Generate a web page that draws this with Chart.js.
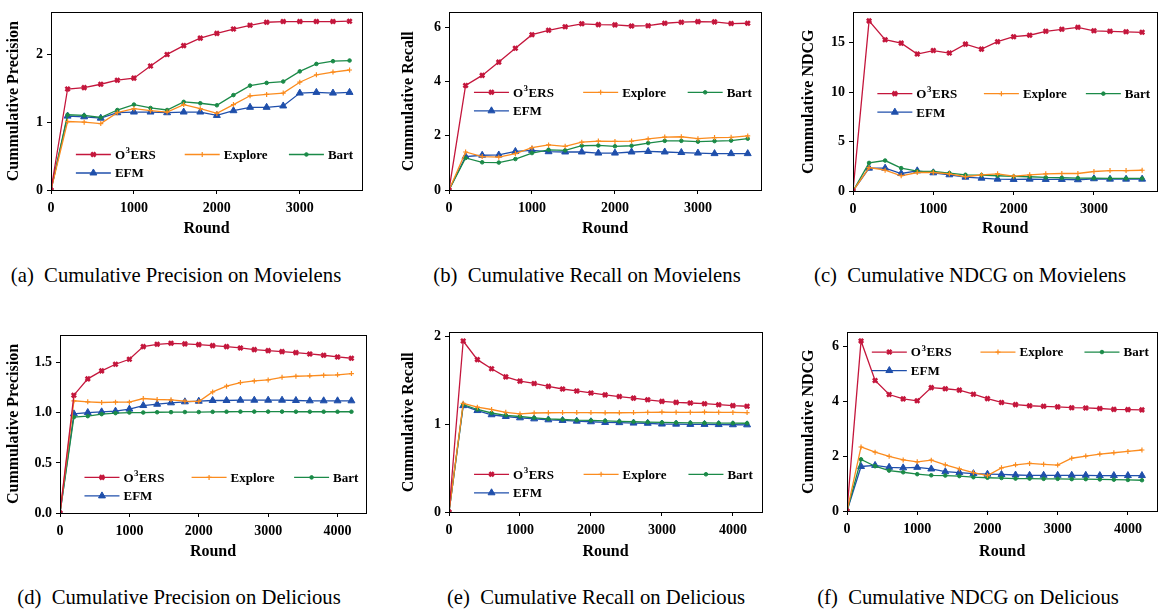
<!DOCTYPE html>
<html>
<head>
<meta charset="utf-8">
<script src="https://cdn.jsdelivr.net/npm/chart.js@4.4.1/dist/chart.umd.min.js"></script>
<style>
  body { margin: 0; background: #fff; width: 1164px; height: 611px; position: relative; overflow: hidden; }
  .panel { position: absolute; }
  .caption { position: absolute; font-family: "Liberation Serif", serif; font-size: 20.7px; line-height: 24px;
             white-space: pre; color: #000; transform: translateX(-50%); }
</style>
</head>
<body>
<div class="panel" id="pa"><canvas id="ca"></canvas></div>
<div class="panel" id="pb"><canvas id="cb"></canvas></div>
<div class="panel" id="pc"><canvas id="cc"></canvas></div>
<div class="panel" id="pd"><canvas id="cd"></canvas></div>
<div class="panel" id="pe"><canvas id="ce"></canvas></div>
<div class="panel" id="pf"><canvas id="cf"></canvas></div>

<div class="caption" style="left:176px;top:263px">(a)  Cumulative Precision on Movielens</div>
<div class="caption" style="left:587px;top:263px">(b)  Cumulative Recall on Movielens</div>
<div class="caption" style="left:970px;top:263px">(c)  Cumulative NDCG on Movielens</div>
<div class="caption" style="left:179px;top:585px">(d)  Cumulative Precision on Delicious</div>
<div class="caption" style="left:596px;top:585px">(e)  Cumulative Recall on Delicious</div>
<div class="caption" style="left:968px;top:585px">(f)  Cumulative NDCG on Delicious</div>

<script>
// rounds (x values)
const roundsMovielens = [0, 200, 400, 600, 800, 1000, 1200, 1400, 1600, 1800, 2000,
  2200, 2400, 2600, 2800, 3000, 3200, 3400, 3600];
const roundsDelicious = [0, 200, 400, 600, 800, 1000, 1200, 1400, 1600, 1800, 2000,
  2200, 2400, 2600, 2800, 3000, 3200, 3400, 3600, 3800, 4000, 4200];

// tick values
const xTicksMovielens = [0, 1000, 2000, 3000];
const xTicksDelicious = [0, 1000, 2000, 3000, 4000];
const yTicksPrecMov = [0, 1, 2];
const yTicksRecMov = [0, 2, 4, 6];
const yTicksNdcgMov = [0, 5, 10, 15];
const yTicksPrecDel = [0, 0.5, 1.0, 1.5];
const yTicksRecDel = [0, 1, 2];
const yTicksNdcgDel = [0, 2, 4, 6];

const methodNames = ['O³ERS', 'Explore', 'Bart', 'EFM'];

// Movielens
const precMovO3ERS   = [0, 1.49, 1.51, 1.56, 1.62, 1.65, 1.83, 2.0, 2.13, 2.24, 2.31, 2.375, 2.43, 2.475, 2.485, 2.485, 2.485, 2.485, 2.49];
const precMovExplore = [0, 1.01, 1.0, 0.98, 1.14, 1.2, 1.17, 1.15, 1.26, 1.2, 1.13, 1.26, 1.39, 1.41, 1.43, 1.59, 1.70, 1.74, 1.77];
const precMovBart    = [0, 1.11, 1.10, 1.07, 1.18, 1.26, 1.21, 1.18, 1.30, 1.28, 1.25, 1.40, 1.54, 1.58, 1.60, 1.75, 1.86, 1.90, 1.91];
const precMovEFM     = [0, 1.09, 1.08, 1.06, 1.14, 1.15, 1.15, 1.14, 1.15, 1.15, 1.10, 1.17, 1.22, 1.22, 1.24, 1.43, 1.44, 1.43, 1.44];

const recMovO3ERS   = [0, 3.85, 4.22, 4.71, 5.22, 5.72, 5.88, 6.01, 6.12, 6.09, 6.08, 6.04, 6.05, 6.14, 6.18, 6.20, 6.19, 6.13, 6.14];
const recMovExplore = [0, 1.40, 1.23, 1.21, 1.34, 1.56, 1.66, 1.61, 1.76, 1.80, 1.79, 1.80, 1.88, 1.95, 1.96, 1.89, 1.93, 1.94, 1.99];
const recMovBart    = [0, 1.18, 1.02, 1.01, 1.14, 1.36, 1.48, 1.46, 1.63, 1.64, 1.61, 1.63, 1.73, 1.81, 1.81, 1.78, 1.80, 1.82, 1.89];
const recMovEFM     = [0, 1.23, 1.28, 1.29, 1.42, 1.46, 1.41, 1.40, 1.40, 1.36, 1.36, 1.40, 1.42, 1.40, 1.38, 1.36, 1.34, 1.34, 1.34];

const ndcgMovO3ERS   = [0, 17.2, 15.3, 14.95, 13.85, 14.2, 13.95, 14.85, 14.35, 15.1, 15.6, 15.75, 16.15, 16.35, 16.55, 16.2, 16.15, 16.1, 16.05];
const ndcgMovExplore = [0, 2.37, 2.1, 1.54, 1.87, 1.87, 1.74, 1.44, 1.64, 1.74, 1.5, 1.64, 1.74, 1.77, 1.77, 1.97, 2.07, 2.07, 2.1];
const ndcgMovBart    = [0, 2.84, 3.08, 2.31, 2.0, 1.97, 1.81, 1.64, 1.6, 1.54, 1.47, 1.44, 1.37, 1.34, 1.30, 1.30, 1.27, 1.27, 1.27];
const ndcgMovEFM     = [0, 2.31, 2.31, 1.77, 2.04, 1.84, 1.64, 1.40, 1.30, 1.20, 1.17, 1.20, 1.17, 1.17, 1.14, 1.24, 1.20, 1.20, 1.20];

// Delicious
const precDelO3ERS   = [0, 1.176, 1.339, 1.419, 1.485, 1.535, 1.661, 1.684, 1.694, 1.688, 1.681, 1.671, 1.661, 1.648, 1.631, 1.621, 1.611, 1.601, 1.588, 1.575, 1.558, 1.545];
const precDelExplore = [0, 1.12, 1.11, 1.103, 1.106, 1.106, 1.143, 1.133, 1.13, 1.116, 1.113, 1.209, 1.266, 1.302, 1.319, 1.329, 1.355, 1.365, 1.369, 1.375, 1.379, 1.392];
const precDelBart    = [0, 0.957, 0.967, 0.987, 0.997, 1.003, 1.003, 1.006, 1.007, 1.008, 1.008, 1.01, 1.011, 1.012, 1.012, 1.012, 1.012, 1.011, 1.011, 1.011, 1.011, 1.011];
const precDelEFM     = [0, 0.99, 1.003, 1.01, 1.017, 1.037, 1.073, 1.086, 1.1, 1.11, 1.116, 1.123, 1.123, 1.126, 1.126, 1.126, 1.126, 1.123, 1.12, 1.12, 1.12, 1.12];

const recDelO3ERS   = [0, 1.952, 1.739, 1.635, 1.542, 1.494, 1.467, 1.434, 1.404, 1.382, 1.359, 1.337, 1.318, 1.30, 1.281, 1.263, 1.251, 1.244, 1.236, 1.225, 1.214, 1.207];
const recDelExplore = [0, 1.24, 1.197, 1.17, 1.138, 1.12, 1.13, 1.133, 1.135, 1.135, 1.135, 1.133, 1.133, 1.135, 1.138, 1.14, 1.138, 1.138, 1.14, 1.138, 1.137, 1.135];
const recDelBart    = [0, 1.225, 1.17, 1.13, 1.104, 1.09, 1.075, 1.063, 1.056, 1.048, 1.045, 1.041, 1.034, 1.03, 1.026, 1.022, 1.02, 1.018, 1.017, 1.015, 1.014, 1.013];
const recDelEFM     = [0, 1.214, 1.158, 1.11, 1.09, 1.075, 1.063, 1.052, 1.045, 1.037, 1.03, 1.022, 1.02, 1.015, 1.013, 1.004, 1.003, 1.0, 1.0, 0.998, 0.996, 0.995];

const ndcgDelO3ERS   = [0, 6.19, 4.75, 4.24, 4.08, 4.01, 4.49, 4.45, 4.40, 4.25, 4.09, 3.95, 3.87, 3.83, 3.81, 3.79, 3.76, 3.75, 3.73, 3.70, 3.69, 3.68];
const ndcgDelExplore = [0, 2.33, 2.14, 1.99, 1.86, 1.79, 1.85, 1.68, 1.53, 1.40, 1.29, 1.57, 1.68, 1.73, 1.70, 1.67, 1.92, 2.0, 2.07, 2.12, 2.17, 2.22];
const ndcgDelBart    = [0, 1.88, 1.63, 1.47, 1.41, 1.34, 1.30, 1.29, 1.27, 1.23, 1.21, 1.20, 1.18, 1.18, 1.17, 1.17, 1.16, 1.16, 1.15, 1.14, 1.13, 1.12];
const ndcgDelEFM     = [0, 1.62, 1.66, 1.59, 1.57, 1.59, 1.53, 1.43, 1.40, 1.36, 1.34, 1.33, 1.31, 1.30, 1.30, 1.30, 1.30, 1.30, 1.29, 1.29, 1.29, 1.29];

// series styles, same order as methodNames
const styles = [
  { color: '#c4163c', pointStyle: 'crossRot', radius: 3, pointBorderWidth: 2.6 },
  { color: '#fb8c1f', pointStyle: 'cross', radius: 2.5, pointBorderWidth: 1.2 },
  { color: '#1b8a48', pointStyle: 'circle', radius: 1.8, pointBorderWidth: 1 },
  { color: '#1f4fab', pointStyle: 'triangle', radius: 4, pointBorderWidth: 1 }
];

const FONT = '"Liberation Serif", "Times New Roman", serif';

// draws the full frame round the plot
const framePlugin = {
  id: 'frame',
  afterDraw(chart) {
    const a = chart.chartArea, ctx = chart.ctx;
    ctx.save();
    ctx.strokeStyle = '#000';
    ctx.lineWidth = 1;
    ctx.strokeRect(Math.round(a.left) + 0.5, Math.round(a.top) + 0.5,
                   Math.round(a.right - a.left), Math.round(a.bottom - a.top));
    ctx.restore();
  }
};

// label text, with a raised "3" for the superscript
function drawLabel(ctx, text, x, y) {
  const parts = text.split('³');
  if (parts.length === 1) { ctx.fillText(text, x, y); return; }
  ctx.fillText(parts[0], x, y);
  let cx = x + ctx.measureText(parts[0]).width + 0.5;
  const base = ctx.font;
  ctx.font = 'bold 9px ' + FONT;
  ctx.fillText('3', cx, y - 4.5);
  cx += ctx.measureText('3').width + 0.5;
  ctx.font = base;
  ctx.fillText(parts[1], cx, y);
}

// legend in 3 columns inside the plot area
const legendPlugin = {
  id: 'innerLegend',
  afterDraw(chart, args, opts) {
    const a = chart.chartArea, ctx = chart.ctx;
    const w = a.right - a.left, h = a.bottom - a.top;
    const cols = [0.08, 0.43, 0.765];
    ctx.save();
    ctx.font = 'bold 13px ' + FONT;
    ctx.textBaseline = 'middle';
    chart.data.datasets.forEach((ds, i) => {
      const col = i % 3, row = Math.floor(i / 3);
      const x0 = a.left + cols[col] * w;
      const y = a.top + opts.rowY * h + row * 18.5;
      ctx.strokeStyle = ds.borderColor;
      ctx.lineWidth = 1.3;
      ctx.beginPath();
      ctx.moveTo(x0, y);
      ctx.lineTo(x0 + 35, y);
      ctx.stroke();
      ctx.fillStyle = ds.borderColor;
      ctx.lineWidth = ds.pointBorderWidth;
      Chart.helpers.drawPoint(ctx, { pointStyle: ds.pointStyle, radius: ds.pointRadius, rotation: 0,
                                     borderWidth: ds.pointBorderWidth }, x0 + 17.5, y);
      ctx.fillStyle = '#000';
      drawLabel(ctx, ds.label, x0 + 39, y + 1);
    });
    ctx.restore();
  }
};

function makePanel(cfg) {
  const holder = document.getElementById(cfg.holder);
  const [bl, bt, br, bb] = cfg.box;
  const [pl, pt, pr, pb] = cfg.plot;
  holder.style.left = bl + 'px';
  holder.style.top = bt + 'px';
  holder.style.width = (br - bl) + 'px';
  holder.style.height = (bb - bt) + 'px';

  const datasets = cfg.series.map((vals, i) => ({
    label: methodNames[i],
    data: cfg.rounds.map((r, k) => ({ x: r, y: vals[k] })),
    borderColor: styles[i].color,
    backgroundColor: styles[i].color,
    borderWidth: 1.3,
    pointStyle: styles[i].pointStyle,
    pointRadius: styles[i].radius,
    pointBorderWidth: styles[i].pointBorderWidth,
    pointBackgroundColor: styles[i].color,
    tension: 0
  }));

  const tickFont = { family: FONT, size: 14, weight: 'bold' };
  const titleFont = { family: FONT, size: 16, weight: 'bold' };

  new Chart(document.getElementById(cfg.canvas), {
    type: 'line',
    data: { datasets },
    plugins: [framePlugin, legendPlugin],
    options: {
      responsive: true,
      maintainAspectRatio: false,
      animation: false,
      layout: { padding: { top: pt - bt, right: br - pr, left: 0, bottom: 0 } },
      plugins: {
        legend: { display: false },
        tooltip: { enabled: false },
        innerLegend: { rowY: cfg.legendRow }
      },
      scales: {
        x: {
          type: 'linear',
          min: 0,
          max: cfg.xMax,
          afterBuildTicks(scale) { scale.ticks = cfg.xTicks.map(v => ({ value: v })); },
          afterFit(scale) { scale.height = bb - pb; },
          ticks: { color: '#000', font: tickFont, padding: 6, maxRotation: 0, autoSkip: false,
                   callback: v => String(v) },
          grid: { display: true, drawOnChartArea: false, drawTicks: true, tickLength: 4, color: '#000' },
          border: { display: false },
          title: { display: true, text: 'Round', color: '#000', font: titleFont, padding: { top: 2, bottom: 4 } }
        },
        y: {
          min: 0,
          max: cfg.yMax,
          afterBuildTicks(scale) { scale.ticks = cfg.yTicks.map(v => ({ value: v })); },
          afterFit(scale) { scale.width = pl - bl; },
          ticks: { color: '#000', font: tickFont, padding: 4, autoSkip: false,
                   callback: v => cfg.yDecimals ? v.toFixed(cfg.yDecimals) : String(v) },
          grid: { display: true, drawOnChartArea: false, drawTicks: true, tickLength: 4, color: '#000' },
          border: { display: false },
          title: { display: true, text: cfg.yTitle, color: '#000', font: titleFont, padding: { top: 4, bottom: 4 } }
        }
      }
    }
  });
}

makePanel({ holder: 'pa', canvas: 'ca', box: [0, 0, 375, 242], plot: [51, 6, 362, 190],
  rounds: roundsMovielens, series: [precMovO3ERS, precMovExplore, precMovBart, precMovEFM],
  xMax: 3750, xTicks: xTicksMovielens, yMax: 2.62, yTicks: yTicksPrecMov, yDecimals: 0,
  yTitle: 'Cummulative Precision', legendRow: 0.80 });

makePanel({ holder: 'pb', canvas: 'cb', box: [395, 0, 775, 242], plot: [449, 6, 761, 190],
  rounds: roundsMovielens, series: [recMovO3ERS, recMovExplore, recMovBart, recMovEFM],
  xMax: 3760, xTicks: xTicksMovielens, yMax: 6.54, yTicks: yTicksRecMov, yDecimals: 0,
  yTitle: 'Cummulative Recall', legendRow: 0.45 });

makePanel({ holder: 'pc', canvas: 'cc', box: [795, 0, 1164, 242], plot: [853, 11, 1161, 191],
  rounds: roundsMovielens, series: [ndcgMovO3ERS, ndcgMovExplore, ndcgMovBart, ndcgMovEFM],
  xMax: 3790, xTicks: xTicksMovielens, yMax: 18.06, yTicks: yTicksNdcgMov, yDecimals: 0,
  yTitle: 'Cummulative NDCG', legendRow: 0.455 });

makePanel({ holder: 'pd', canvas: 'cd', box: [0, 320, 375, 565], plot: [60, 335, 366, 513],
  rounds: roundsDelicious, series: [precDelO3ERS, precDelExplore, precDelBart, precDelEFM],
  xMax: 4410, xTicks: xTicksDelicious, yMax: 1.777, yTicks: yTicksPrecDel, yDecimals: 1,
  yTitle: 'Cummulative Precision', legendRow: 0.80 });

makePanel({ holder: 'pe', canvas: 'ce', box: [395, 320, 775, 565], plot: [449, 328, 762, 512],
  rounds: roundsDelicious, series: [recDelO3ERS, recDelExplore, recDelBart, recDelEFM],
  xMax: 4410, xTicks: xTicksDelicious, yMax: 2.05, yTicks: yTicksRecDel, yDecimals: 0,
  yTitle: 'Cummulative Recall', legendRow: 0.79 });

makePanel({ holder: 'pf', canvas: 'cf', box: [795, 320, 1164, 565], plot: [847, 328, 1161, 511],
  rounds: roundsDelicious, series: [ndcgDelO3ERS, ndcgDelExplore, ndcgDelBart, ndcgDelEFM],
  xMax: 4420, xTicks: xTicksDelicious, yMax: 6.5, yTicks: yTicksNdcgDel, yDecimals: 0,
  yTitle: 'Cummulative NDCG', legendRow: 0.11 });
</script>
</body>
</html>
